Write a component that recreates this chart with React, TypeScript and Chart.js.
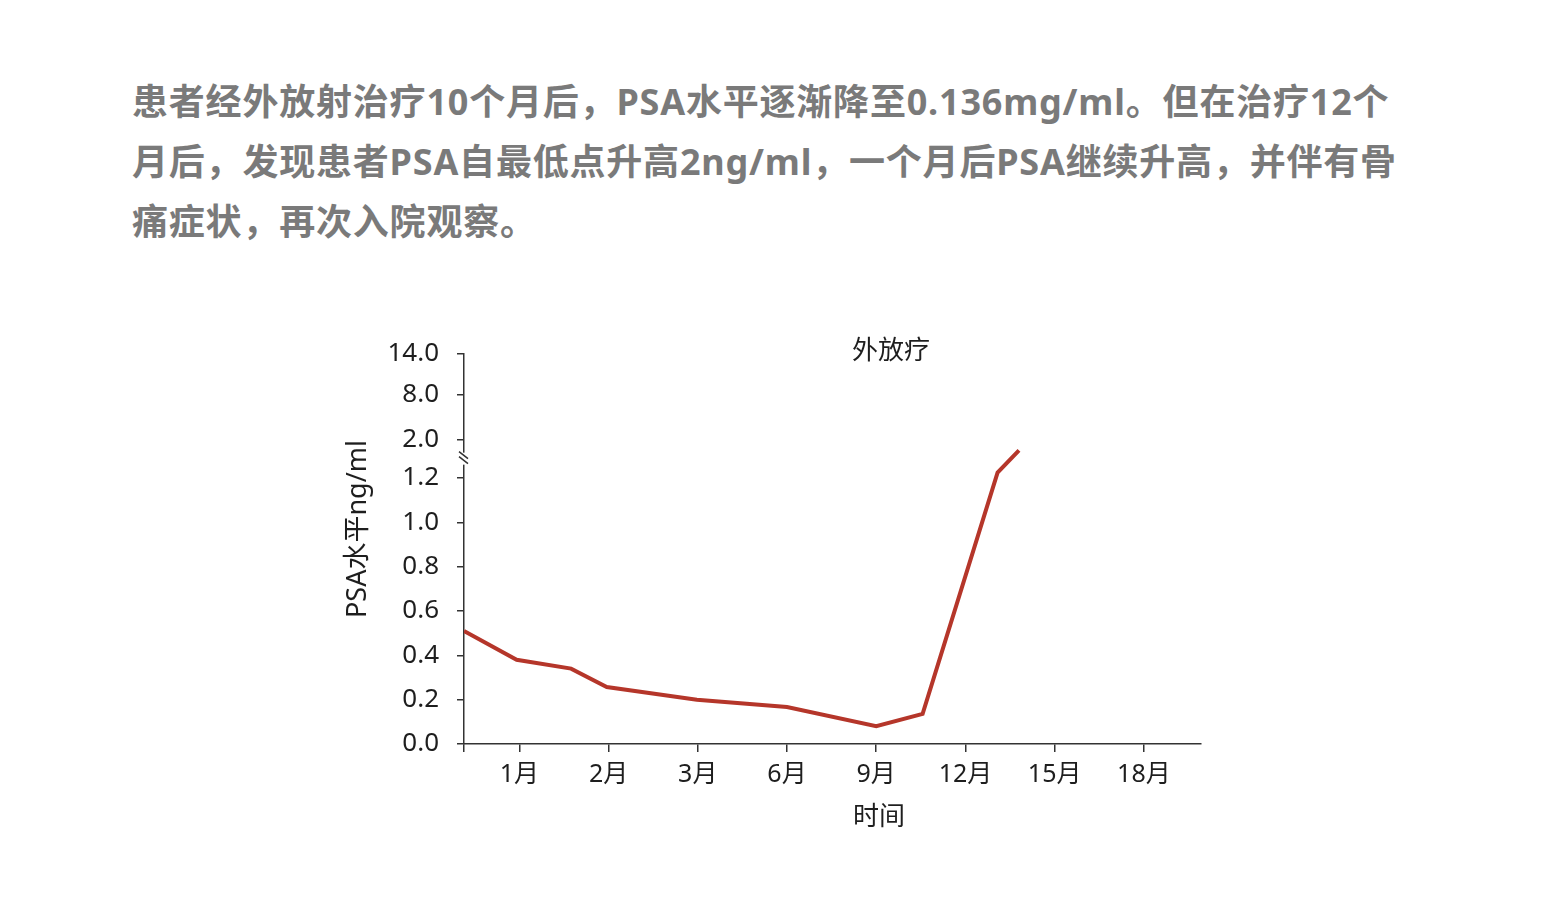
import React, { useEffect, useRef } from "react";
import { Chart, registerables } from "chart.js";

Chart.register(...registerables);

// ---- data ----
const paragraphLines = [
  "患者经外放射治疗10个月后，PSA水平逐渐降至0.136mg/ml。但在治疗12个",
  "月后，发现患者PSA自最低点升高2ng/ml，一个月后PSA继续升高，并伴有骨",
  "痛症状，再次入院观察。",
];
const chartTitle = "外放疗";
const xAxisTitle = "时间";
const yAxisTitle = "PSA水平ng/ml";

const monthLabels = ["1月", "2月", "3月", "6月", "9月", "12月", "15月", "18月"];
const monthPositions = [1, 2, 3, 4, 5, 6, 7, 8];
const xMin = 0.38;
const xMax = 8.64;

// points along the month index axis and PSA values (ng/ml)
const pointPositions = [0.38, 0.97, 1.58, 1.98, 2.99, 4.0, 5.0, 5.52, 6.36, 6.6];
const psaValues = [0.51, 0.38, 0.34, 0.257, 0.2, 0.167, 0.08, 0.136, 1.31, 1.77];

const yTickValues = [0, 0.2, 0.4, 0.6, 0.8, 1.0, 1.2, 2.0, 8.0, 14.0];
const yTickLabels = ["0.0", "0.2", "0.4", "0.6", "0.8", "1.0", "1.2", "2.0", "8.0", "14.0"];

// broken axis: real values -> display units
const breakStops = [1.2, 2.0, 8.0, 14.0];
const displayStops = [1.2, 1.374, 1.574, 1.759];

function toDisplay(v: number): number {
  if (v <= breakStops[0]) return v;
  for (let i = 1; i < breakStops.length; i++) {
    if (v <= breakStops[i]) {
      const f = (v - breakStops[i - 1]) / (breakStops[i] - breakStops[i - 1]);
      return displayStops[i - 1] + f * (displayStops[i] - displayStops[i - 1]);
    }
  }
  return displayStops[displayStops.length - 1];
}

const FONT_FAMILY = '"Noto Sans", "Noto Sans CJK SC", sans-serif';
const LINE_COLOR = "#b5362a";
const AXIS_COLOR = "#333333";
const TEXT_COLOR = "#1e1e1e";

const overlayPlugin = {
  id: "overlayTexts",
  afterDraw(chart: any) {
    const { ctx, chartArea, scales } = chart;
    const y = scales.y;
    ctx.save();
    // axis break marks
    const breakPix = y.getPixelForValue((displayStops[0] + displayStops[1]) / 2);
    const ax = chartArea.left;
    ctx.fillStyle = "#ffffff";
    ctx.fillRect(ax - 3, breakPix - 6, 6, 12);
    ctx.strokeStyle = AXIS_COLOR;
    ctx.lineWidth = 1.5;
    ctx.beginPath();
    ctx.moveTo(ax - 5, breakPix - 7);
    ctx.lineTo(ax + 4, breakPix);
    ctx.moveTo(ax - 5, breakPix - 2);
    ctx.lineTo(ax + 4, breakPix + 5);
    ctx.stroke();

    ctx.fillStyle = TEXT_COLOR;
    ctx.font = `26px ${FONT_FAMILY}`;
    ctx.textAlign = "center";
    ctx.textBaseline = "middle";
    // chart title
    ctx.fillText(chartTitle, chartArea.left + 427, chartArea.top - 2);
    // x axis title
    ctx.fillText(xAxisTitle, chartArea.left + 415, chartArea.bottom + 74);
    // y axis title
    ctx.font = `27px ${FONT_FAMILY}`;
    ctx.translate(chartArea.left - 106, chartArea.top + 175);
    ctx.rotate(-Math.PI / 2);
    ctx.fillText(yAxisTitle, 0, 0);
    ctx.restore();
  },
};

export default function App() {
  const canvasRef = useRef<HTMLCanvasElement | null>(null);

  useEffect(() => {
    if (!canvasRef.current) return;
    const data = pointPositions.map((x, i) => ({ x, y: toDisplay(psaValues[i]) }));
    const chart = new Chart(canvasRef.current, {
      type: "line",
      data: {
        datasets: [
          {
            data,
            borderColor: LINE_COLOR,
            borderWidth: 4,
            pointRadius: 0,
            tension: 0,
            fill: false,
          },
        ],
      },
      options: {
        animation: false,
        responsive: false,
        layout: { padding: { left: 345, right: 353, top: 354, bottom: 0 } },
        plugins: {
          legend: { display: false },
          tooltip: { enabled: false },
          title: { display: false },
        },
        scales: {
          x: {
            type: "linear",
            min: xMin,
            max: xMax,
            afterBuildTicks: (scale: any) => {
              scale.ticks = [xMin, ...monthPositions].map((v) => ({ value: v }));
            },
            afterFit: (scale: any) => {
              scale.height = 912 - 744;
            },
            border: { display: true, color: AXIS_COLOR, width: 1.5 },
            grid: {
              display: true,
              drawOnChartArea: false,
              drawTicks: true,
              tickLength: 8,
              color: AXIS_COLOR,
              lineWidth: 1.5,
            },
            ticks: {
              autoSkip: false,
              maxRotation: 0,
              padding: 8,
              color: TEXT_COLOR,
              font: { family: FONT_FAMILY, size: 25 },
              callback: (_v: any, idx: number) => (idx === 0 ? "" : monthLabels[idx - 1]),
            },
          },
          y: {
            type: "linear",
            min: 0,
            max: displayStops[displayStops.length - 1],
            afterBuildTicks: (scale: any) => {
              scale.ticks = yTickValues.map((v) => ({ value: toDisplay(v) }));
            },
            afterFit: (scale: any) => {
              scale.width = 119;
            },
            border: { display: true, color: AXIS_COLOR, width: 1.5 },
            grid: {
              display: true,
              drawOnChartArea: false,
              drawTicks: true,
              tickLength: 7,
              color: AXIS_COLOR,
              lineWidth: 1.5,
            },
            ticks: {
              autoSkip: false,
              padding: 18,
              color: TEXT_COLOR,
              font: { family: FONT_FAMILY, size: 26 },
              callback: (_v: any, idx: number) => yTickLabels[idx],
            },
          },
        },
      },
      plugins: [overlayPlugin],
    } as any);
    return () => chart.destroy();
  }, []);

  return (
    <div
      style={{
        position: "fixed",
        left: 0,
        top: 0,
        width: 1554,
        height: 912,
        background: "#ffffff",
        overflow: "hidden",
      }}
    >
      <div
        style={{
          position: "absolute",
          left: 132,
          top: 72,
          fontFamily: FONT_FAMILY,
          fontWeight: 700,
          fontSize: 36,
          lineHeight: "60px",
          letterSpacing: "0.8px",
          color: "#7a7a7a",
          whiteSpace: "nowrap",
        }}
      >
        {paragraphLines.map((l, i) => (
          <div key={i}>{l}</div>
        ))}
      </div>
      <canvas
        ref={canvasRef}
        width={1554}
        height={912}
        style={{ position: "absolute", left: 0, top: 0, width: 1554, height: 912 }}
      />
    </div>
  );
}
